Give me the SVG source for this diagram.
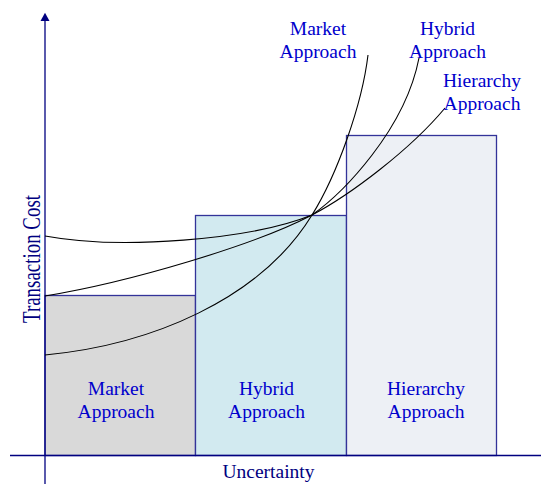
<svg xmlns="http://www.w3.org/2000/svg" width="541" height="484" viewBox="0 0 541 484">
<style>
.box{stroke:#333399;stroke-width:1.3}
.lbl{font-family:"Liberation Serif","Times New Roman",serif;font-size:19.5px;fill:#0000cc;text-anchor:middle}
.ax{font-family:"Liberation Serif","Times New Roman",serif;fill:#000080;text-anchor:middle}
.curve{fill:none;stroke:#000000;stroke-width:1.1}
.axis{stroke:#000080;stroke-width:1.3;fill:none}
</style>
<rect width="541" height="484" fill="#ffffff"/>
<g id="market-box">
<rect class="box" x="45" y="295.5" width="150.5" height="160" fill="#d9d9d9"/>
<text class="lbl" x="116" y="395">Market</text>
<text class="lbl" x="116" y="418">Approach</text>
</g>
<g id="hybrid-box">
<rect class="box" x="195.5" y="215.5" width="151" height="240" fill="#d2eaf0"/>
<text class="lbl" x="266.5" y="395">Hybrid</text>
<text class="lbl" x="266.5" y="418">Approach</text>
</g>
<g id="hierarchy-box">
<rect class="box" x="346.5" y="135.5" width="150" height="320" fill="#edf0f5"/>
<text class="lbl" x="426" y="395">Hierarchy</text>
<text class="lbl" x="426" y="418">Approach</text>
</g>
<g id="axes">
<line class="axis" x1="10" y1="455.5" x2="541" y2="455.5"/>
<line class="axis" x1="45" y1="20" x2="45" y2="484"/>
<polygon points="45,12.7 40.5,21 49.5,21" fill="#000080"/>
<text class="ax" x="268.5" y="478" font-size="19.5">Uncertainty</text>
<text class="ax" transform="translate(40,259) rotate(-90)" x="0" y="0" font-size="25" textLength="128" lengthAdjust="spacingAndGlyphs">Transaction Cost</text>
</g>
<g id="connectors">
<path class="curve" d="M45,355 C150,345 260,300 312,215 C337,175 362,105 368,55"/>
<path class="curve" d="M45,296 C130,282 255,245 312,215 C343,193 405,130 419,58"/>
<path class="curve" d="M45,236 C120,250 250,240 312,215 C350,195 410,150 445,108"/>
</g>
<g id="curve-labels">
<text class="lbl" x="318" y="35">Market</text>
<text class="lbl" x="318" y="58">Approach</text>
<text class="lbl" x="447.5" y="35">Hybrid</text>
<text class="lbl" x="447.5" y="58">Approach</text>
<text class="lbl" x="482" y="87">Hierarchy</text>
<text class="lbl" x="482" y="110">Approach</text>
</g>
</svg>
